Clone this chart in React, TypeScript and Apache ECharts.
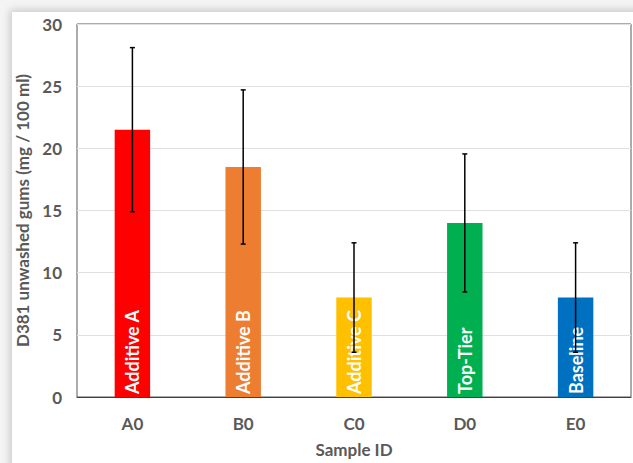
import React, { useEffect, useRef } from "react";
import * as echarts from "echarts";

const categories = ["A0", "B0", "C0", "D0", "E0"];
const values = [21.5, 18.5, 8, 14, 8];
const errors = [6.6, 6.2, 4.4, 5.55, 4.4];
const barLabels = ["Additive A", "Additive B", "Additive C", "Top-Tier", "Baseline"];
const barColors = ["#ff0000", "#ed7d31", "#ffc000", "#00b050", "#0070c0"];
const yTicks = { min: 0, max: 30, interval: 5 };

const FONT = "Lato, 'Open Sans', sans-serif";

export default function App() {
  const ref = useRef<HTMLDivElement>(null);
  useEffect(() => {
    if (!ref.current) return;
    const chart = echarts.init(ref.current, null, { renderer: "svg" });
    const errData = categories.map((c, i) => [i, values[i] - errors[i], values[i] + errors[i]]);
    chart.setOption({
      animation: false,
      textStyle: { fontFamily: FONT },
      grid: {
        left: 77,
        top: 24,
        right: 2,
        bottom: 63,
        show: true,
        borderColor: "#595959",
        borderWidth: 1,
      },
      xAxis: {
        type: "category",
        data: categories,
        axisTick: { show: false },
        axisLine: { lineStyle: { color: "#404040", width: 1 } },
        axisLabel: { color: "#595959", fontWeight: "bold", fontSize: 17, margin: 18, fontFamily: FONT },
        name: "Sample ID",
        nameLocation: "middle",
        nameGap: 44,
        nameTextStyle: { color: "#595959", fontWeight: "bold", fontSize: 17, fontFamily: FONT },
      },
      yAxis: {
        type: "value",
        min: yTicks.min,
        max: yTicks.max,
        interval: yTicks.interval,
        axisLine: { show: false },
        axisTick: { show: false },
        splitLine: { lineStyle: { color: "#e0e0e0", width: 1 } },
        axisLabel: { color: "#595959", fontWeight: "bold", fontSize: 17, margin: 15, fontFamily: FONT },
        name: "D381 unwashed gums (mg / 100 ml)",
        nameLocation: "middle",
        nameGap: 46,
        nameTextStyle: { color: "#595959", fontWeight: "bold", fontSize: 17, fontFamily: FONT },
      },
      series: [
        {
          type: "bar",
          barWidth: "32%",
          data: values.map((v, i) => ({ value: v, itemStyle: { color: barColors[i] } })),
          label: {
            show: true,
            position: "insideBottom",
            rotate: 90,
            align: "left",
            verticalAlign: "middle",
            distance: 3,
            color: "#ffffff",
            fontWeight: "bold",
            fontSize: 18,
            fontFamily: FONT,
            formatter: (p: any) => barLabels[p.dataIndex],
          },
          z: 2,
        },
        {
          type: "custom",
          z: 5,
          data: errData,
          renderItem: (params: any, api: any) => {
            const x = api.value(0);
            const lo = api.coord([x, api.value(1)]);
            const hi = api.coord([x, api.value(2)]);
            const cap = 2.5;
            const style = { stroke: "#000000", lineWidth: 1.5 };
            return {
              type: "group",
              children: [
                { type: "line", shape: { x1: lo[0], y1: lo[1], x2: hi[0], y2: hi[1] }, style },
                { type: "line", shape: { x1: lo[0] - cap, y1: lo[1], x2: lo[0] + cap, y2: lo[1] }, style },
                { type: "line", shape: { x1: hi[0] - cap, y1: hi[1], x2: hi[0] + cap, y2: hi[1] }, style },
              ],
            };
          },
        },
      ],
    });
    return () => chart.dispose();
  }, []);
  return (
    <div style={{ position: "fixed", left: 0, top: 0, width: 633, height: 463, overflow: "hidden", background: "#f4f4f4" }}>
      <div
        style={{
          position: "absolute",
          left: 12,
          top: 12,
          width: 640,
          height: 470,
          background: "#ffffff",
          boxShadow: "0 0 8px 2px rgba(0,0,0,0.18)",
        }}
      />
      <div ref={ref} style={{ position: "absolute", left: 0, top: 0, width: 633, height: 463 }} />
    </div>
  );
}
